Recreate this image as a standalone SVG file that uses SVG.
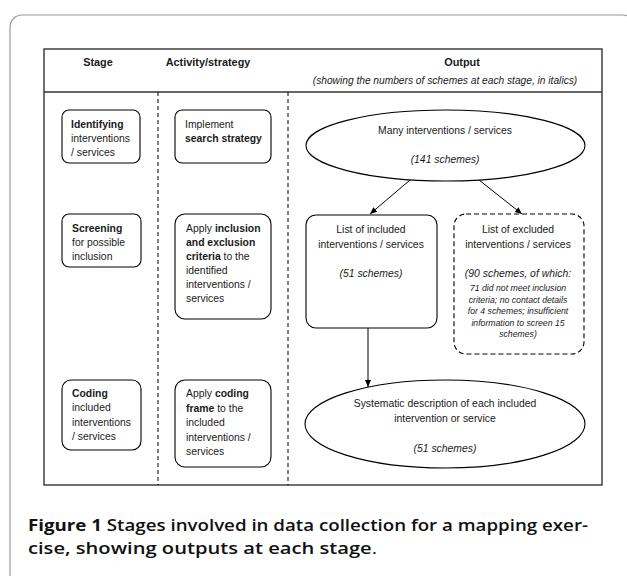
<svg xmlns="http://www.w3.org/2000/svg" width="627" height="576" viewBox="0 0 627 576">
<style>
text{font-family:"Liberation Sans",Arial,sans-serif;fill:#1a1a1a;font-size:10.4px}
.h{font-weight:bold;font-size:10.9px;text-anchor:middle}
.b{font-weight:bold}
.c{text-anchor:middle}
.i{font-style:italic}
.s{font-style:italic;font-size:8.7px;text-anchor:middle}
.box{fill:#fff;stroke:#000;stroke-width:1.1}
.dash{stroke:#000;stroke-width:1;stroke-dasharray:4 3}
.cap{font-family:"Open Sans","Noto Sans",sans-serif;font-size:16px;fill:#111}
</style>
<defs>
<marker id="ah" markerWidth="8" markerHeight="8" refX="7" refY="4" orient="auto" markerUnits="userSpaceOnUse">
<path d="M0,1 L7,4 L0,7 Z" fill="#000"/>
</marker>
</defs>
<rect x="0" y="0" width="627" height="576" fill="#fff"/>
<rect x="10" y="15" width="625" height="575" rx="12" fill="none" stroke="#9a9a9a" stroke-width="1.2"/>
<g id="table">
<rect x="44" y="49" width="558" height="436" fill="none" stroke="#333" stroke-width="1.4"/>
<line x1="44" y1="92" x2="602" y2="92" stroke="#333" stroke-width="1.4"/>
<line class="dash" x1="158" y1="92" x2="158" y2="485"/>
<line class="dash" x1="288" y1="92" x2="288" y2="485"/>
<text class="h" x="98" y="66">Stage</text>
<text class="h" x="208" y="66">Activity/strategy</text>
<text class="h" x="462" y="66">Output</text>
<text class="i c" x="445" y="84" style="font-size:10.2px">(showing the numbers of schemes at each stage, in italics)</text>
</g>
<g id="stage-identifying">
<rect class="box" x="62" y="110" width="78" height="53" rx="7"/>
<text x="71" y="128"><tspan class="b">Identifying</tspan><tspan x="71" dy="14">interventions</tspan><tspan x="71" dy="14">/ services</tspan></text>
</g>
<g id="activity-search">
<rect class="box" x="175" y="110" width="96" height="53" rx="7"/>
<text x="185" y="128">Implement<tspan x="185" dy="14" class="b">search strategy</tspan></text>
</g>
<g id="output-many">
<ellipse cx="445.5" cy="145.5" rx="139.5" ry="35.5" fill="#fff" stroke="#000" stroke-width="1.1"/>
<text class="c" x="445" y="134">Many interventions / services</text>
<text class="c i" x="445" y="163">(141 schemes)</text>
</g>
<g id="stage-screening">
<rect class="box" x="62" y="214" width="79" height="53" rx="7"/>
<text x="72" y="232"><tspan class="b">Screening</tspan><tspan x="72" dy="14">for possible</tspan><tspan x="72" dy="14">inclusion</tspan></text>
</g>
<g id="activity-criteria">
<rect class="box" x="175" y="214" width="96" height="105" rx="10"/>
<text x="186" y="232">Apply <tspan class="b">inclusion</tspan><tspan x="186" dy="14" class="b">and exclusion</tspan><tspan x="186" dy="14"><tspan class="b">criteria</tspan> to the</tspan><tspan x="186" dy="14">identified</tspan><tspan x="186" dy="14">interventions /</tspan><tspan x="186" dy="14">services</tspan></text>
</g>
<g id="output-included">
<rect class="box" x="306" y="215" width="131" height="113" rx="10"/>
<text class="c" x="371" y="233">List of included<tspan x="371" dy="15">interventions / services</tspan></text>
<text class="c i" x="371" y="277">(51 schemes)</text>
</g>
<g id="output-excluded">
<rect x="454" y="214" width="130" height="140" rx="12" fill="#fff" stroke="#000" stroke-width="1.1" stroke-dasharray="5 3"/>
<text class="c" x="518" y="233">List of excluded<tspan x="518" dy="15">interventions / services</tspan></text>
<text class="c i" x="518" y="277">(90 schemes, of which:</text>
<text class="s" x="518" y="291">71 did not meet inclusion<tspan x="518" dy="11.5">criteria; no contact details</tspan><tspan x="518" dy="11.5">for 4 schemes; insufficient</tspan><tspan x="518" dy="11.5">information to screen 15</tspan><tspan x="518" dy="11.5">schemes)</tspan></text>
</g>
<g id="stage-coding">
<rect class="box" x="62" y="380" width="79" height="70" rx="9"/>
<text x="72" y="397"><tspan class="b">Coding</tspan><tspan x="72" dy="14.3">included</tspan><tspan x="72" dy="14.3">interventions</tspan><tspan x="72" dy="14.3">/ services</tspan></text>
</g>
<g id="activity-coding">
<rect class="box" x="175" y="380" width="96" height="87" rx="10"/>
<text x="186" y="397">Apply <tspan class="b">coding</tspan><tspan x="186" dy="14.5"><tspan class="b">frame</tspan> to the</tspan><tspan x="186" dy="14.5">included</tspan><tspan x="186" dy="14.5">interventions /</tspan><tspan x="186" dy="14.5">services</tspan></text>
</g>
<g id="output-systematic">
<ellipse cx="445" cy="424" rx="140" ry="44" fill="#fff" stroke="#000" stroke-width="1.1"/>
<text class="c" x="445" y="407">Systematic description of each included<tspan x="445" dy="15">intervention or service</tspan></text>
<text class="c i" x="445" y="452">(51 schemes)</text>
</g>
<g id="connectors" stroke="#000" stroke-width="1" fill="none">
<line x1="410" y1="180" x2="370" y2="214" marker-end="url(#ah)"/>
<line x1="479" y1="180" x2="522" y2="214" marker-end="url(#ah)"/>
<line x1="368" y1="328" x2="368" y2="387" marker-end="url(#ah)"/>
</g>
<g id="caption">
<text class="cap" x="28" y="531" textLength="560" lengthAdjust="spacingAndGlyphs"><tspan font-weight="700">Figure 1</tspan><tspan font-weight="600"> Stages involved in data collection for a mapping exer-</tspan></text>
<text class="cap" x="28" y="554" textLength="349" lengthAdjust="spacingAndGlyphs"><tspan font-weight="600">cise, showing outputs at each stage</tspan><tspan font-weight="400">.</tspan></text>
</g>
</svg>
